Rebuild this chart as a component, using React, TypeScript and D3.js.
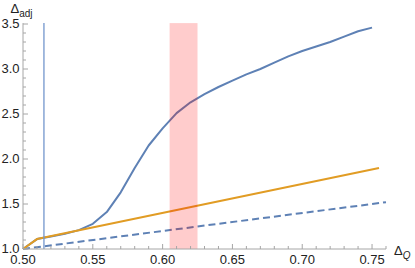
import React, { useEffect, useRef } from "react";
import * as d3 from "d3";

// Δ_Q sample points and the three series
const blueX = [0.5, 0.51, 0.52, 0.53, 0.54, 0.55, 0.56, 0.57, 0.58, 0.59, 0.6, 0.61, 0.62, 0.63, 0.64, 0.65, 0.66, 0.67, 0.68, 0.69, 0.7, 0.71, 0.72, 0.73, 0.74, 0.75];
const blueY = [1.0, 1.11, 1.14, 1.17, 1.21, 1.28, 1.41, 1.63, 1.9, 2.15, 2.34, 2.51, 2.63, 2.72, 2.8, 2.87, 2.94, 3.0, 3.07, 3.14, 3.2, 3.25, 3.3, 3.36, 3.42, 3.46];

const orangeX = [0.5, 0.51, 0.755];
const orangeY = [1.0, 1.11, 1.9];

const dashedX = [0.5, 0.76];
const dashedY = [1.0, 1.52];

const markerX = 0.515;
const bandRange = [0.605, 0.625];

const xTicks = [0.5, 0.55, 0.6, 0.65, 0.7, 0.75];
const yTicks = [1.0, 1.5, 2.0, 2.5, 3.0, 3.5];

const BLUE = "#5e81b5";
const ORANGE = "#e19c24";
const AXIS = "#a6a6a6";

export default function App() {
  const ref = useRef<SVGSVGElement | null>(null);
  const width = 415;
  const height = 268;

  useEffect(() => {
    const svg = d3.select(ref.current);
    svg.selectAll("*").remove();

    const x = d3.scaleLinear().domain([0.5, 0.76]).range([23, 386]);
    const y = d3.scaleLinear().domain([1.0, 3.51]).range([249, 23.1]);

    const line = d3
      .line<[number, number]>()
      .x((d) => x(d[0]))
      .y((d) => y(d[1]));

    const g = svg.append("g");

    // curves
    g.append("path")
      .datum(blueX.map((v, i) => [v, blueY[i]] as [number, number]))
      .attr("d", line)
      .attr("fill", "none")
      .attr("stroke", BLUE)
      .attr("stroke-width", 2)
      .attr("stroke-linejoin", "round");

    g.append("path")
      .datum(dashedX.map((v, i) => [v, dashedY[i]] as [number, number]))
      .attr("d", line)
      .attr("fill", "none")
      .attr("stroke", BLUE)
      .attr("stroke-width", 2)
      .attr("stroke-dasharray", "7,4");

    g.append("path")
      .datum(orangeX.map((v, i) => [v, orangeY[i]] as [number, number]))
      .attr("d", line)
      .attr("fill", "none")
      .attr("stroke", ORANGE)
      .attr("stroke-width", 2)
      .attr("stroke-linejoin", "round");

    // vertical marker
    g.append("line")
      .attr("x1", x(markerX))
      .attr("x2", x(markerX))
      .attr("y1", y(1.0))
      .attr("y2", y(3.51))
      .attr("stroke", "#7396cc")
      .attr("stroke-width", 1.3);

    // shaded band
    g.append("rect")
      .attr("x", x(bandRange[0]))
      .attr("width", x(bandRange[1]) - x(bandRange[0]))
      .attr("y", y(3.51))
      .attr("height", y(1.0) - y(3.51))
      .attr("fill", "red")
      .attr("opacity", 0.2);

    // axes
    const axes = svg.append("g").attr("stroke", AXIS).attr("stroke-width", 1);
    axes.append("line").attr("x1", x(0.5)).attr("x2", x(0.76)).attr("y1", y(1)).attr("y2", y(1));
    axes.append("line").attr("x1", x(0.5)).attr("x2", x(0.5)).attr("y1", y(1)).attr("y2", y(3.51));

    d3.range(50, 77).forEach((k) => {
      const v = k / 100;
      const major = k % 5 === 0;
      axes
        .append("line")
        .attr("x1", x(v))
        .attr("x2", x(v))
        .attr("y1", y(1))
        .attr("y2", y(1) - (major ? 5 : 3));
    });
    d3.range(10, 36).forEach((k) => {
      const v = k / 10;
      const major = k % 5 === 0;
      axes
        .append("line")
        .attr("x1", x(0.5))
        .attr("x2", x(0.5) + (major ? 5 : 3))
        .attr("y1", y(v))
        .attr("y2", y(v));
    });

    const font = "'Liberation Sans', Arial, sans-serif";

    svg
      .append("g")
      .selectAll("text")
      .data(xTicks)
      .enter()
      .append("text")
      .attr("x", (d) => x(d))
      .attr("y", 264)
      .attr("text-anchor", "middle")
      .style("font-family", font)
      .style("font-size", "13px")
      .attr("fill", "#222")
      .text((d) => d.toFixed(2));

    svg
      .append("g")
      .selectAll("text")
      .data(yTicks)
      .enter()
      .append("text")
      .attr("x", 19.5)
      .attr("y", (d) => y(d))
      .attr("dy", "0.33em")
      .attr("text-anchor", "end")
      .style("font-family", font)
      .style("font-size", "13px")
      .attr("fill", "#222")
      .text((d) => d.toFixed(1));

    // axis labels
    const yl = svg
      .append("text")
      .attr("x", 10.5)
      .attr("y", 13)
      .style("font-family", font)
      .style("font-size", "13px")
      .attr("fill", "#222");
    yl.append("tspan").text("Δ");
    yl.append("tspan").attr("dy", 3.5).style("font-size", "10px").text("adj");

    const xl = svg
      .append("text")
      .attr("x", 394)
      .attr("y", 255)
      .style("font-family", font)
      .style("font-size", "13px")
      .attr("fill", "#222");
    xl.append("tspan").text("Δ");
    xl.append("tspan")
      .attr("dy", 3.5)
      .style("font-size", "10px")
      .style("font-style", "italic")
      .text("Q");
  }, []);

  return (
    <svg
      ref={ref}
      width={width}
      height={height}
      style={{ position: "absolute", left: 0, top: 0, background: "#fff" }}
    ></svg>
  );
}
